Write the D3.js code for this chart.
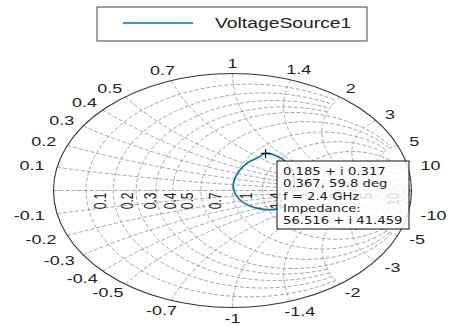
<!DOCTYPE html>
<html>
<head>
<meta charset="utf-8">
<script src="https://cdn.jsdelivr.net/npm/d3@7"></script>
<style>
  body { margin: 0; background: #fff; }
  svg { display: block; }
</style>
</head>
<body>
<svg id="chart" width="449" height="326"></svg>
<script>
// Reflection coefficient trace of VoltageSource1 (real and imaginary parts)
const traceRe = [0.300, 0.237, 0.172, 0.098, 0.042, 0.014, 0.004, 0.014, 0.042, 0.079, 0.135, 0.185, 0.256, 0.295, 0.325, 0.342, 0.345];
const traceIm = [-0.130, -0.161, -0.161, -0.132, -0.081, -0.024, 0.047, 0.104, 0.175, 0.232, 0.275, 0.317, 0.289, 0.250, 0.190, 0.110, 0.030];

// Data tip at 2.4 GHz
const tipRe = 0.185;
const tipIm = 0.317;
const tipLines = ["0.185 + i 0.317", "0.367, 59.8 deg", "f = 2.4 GHz", "Impedance:", "56.516 + i 41.459"];

// Grid circles (normalised resistance / reactance) and the extent each one is drawn to
const gridValues = [0.1, 0.2, 0.3, 0.4, 0.5, 0.7, 1, 1.4, 2, 3, 5, 10, 20, 50];
const gridLimits = [2, 2, 2, 2, 5, 5, 5, 5, 10, 10, 20, 20, 50, Infinity];

// Tick labels
const resistanceLabels = [0.1, 0.2, 0.3, 0.4, 0.5, 0.7, 1, 1.4, 2, 3, 5, 10];
const reactanceLabels = [0.1, 0.2, 0.3, 0.4, 0.5, 0.7, 1, 1.4, 2, 3, 5, 10];

const seriesName = "VoltageSource1";

const svg = d3.select("#chart");
const cx = 232.5, cy = 190.5, rx = 179, ry = 117;
const stretch = 1.38;

const x = d3.scaleLinear().domain([-1, 1]).range([cx - rx, cx + rx]);
const y = d3.scaleLinear().domain([-1, 1]).range([cy + ry, cy - ry]);

// z = r + jx  ->  gamma = (z - 1) / (z + 1)
function gamma(r, xi) {
  const dr = r + 1, den = dr * dr + xi * xi;
  return [((r - 1) * dr + xi * xi) / den, (xi * dr - (r - 1) * xi) / den];
}

const line = d3.line().x(d => x(d[0])).y(d => y(d[1]));
const N = 160;
const grid = svg.append("g")
  .attr("fill", "none")
  .attr("stroke", "#8f8f8f")
  .attr("stroke-width", 0.8)
  .attr("stroke-dasharray", "4,2");

gridValues.forEach((v, i) => {
  const lim = Math.atan(gridLimits[i]);
  // constant-resistance arc
  const rPts = d3.range(N + 1).map(k => {
    const t = -lim + 2 * lim * k / N;
    return gamma(v, Math.tan(t));
  });
  grid.append("path").attr("d", line(rPts));
  // constant-reactance arcs (positive and negative)
  [1, -1].forEach(s => {
    const xPts = d3.range(N + 1).map(k => {
      const t = lim * k / N;
      return gamma(Math.tan(t), s * v);
    });
    grid.append("path").attr("d", line(xPts));
  });
});
// real axis
grid.append("path").attr("d", line([[-1, 0], [1, 0]]));

// outer boundary
svg.append("ellipse")
  .attr("cx", x(0)).attr("cy", y(0))
  .attr("rx", x(1) - x(0)).attr("ry", y(0) - y(1))
  .attr("fill", "none").attr("stroke", "#333").attr("stroke-width", 1.1);

const labelFont = "'Liberation Sans', Arial, sans-serif";

// resistance labels along the real axis
resistanceLabels.forEach(r => {
  const g = (r - 1) / (r + 1);
  svg.append("text")
    .attr("transform", `translate(${x(g) + 14},${y(0) + 2}) scale(${stretch},1) rotate(-90)`)
    .attr("text-anchor", "end")
    .attr("dy", "0.35em")
    .attr("font-family", labelFont)
    .attr("font-size", 12)
    .attr("fill", "#222")
    .text(r);
});

// reactance labels around the rim
reactanceLabels.forEach(v => {
  [1, -1].forEach(s => {
    const g = gamma(0, s * v);
    const c = g[0], sn = g[1];
    const t = svg.append("text")
      .attr("text-anchor", "middle")
      .attr("dy", "0.35em")
      .attr("font-family", labelFont)
      .attr("font-size", 13)
      .attr("fill", "#222")
      .text(s < 0 ? "-" + v : v);
    const w = t.node().getComputedTextLength() * stretch;
    const h = 9;
    const px = x(0) + (rx + 13) * c + c * w / 2;
    const py = y(0) - (ry + 6) * sn - sn * h / 2;
    t.attr("transform", `translate(${px},${py}) scale(${stretch},1)`);
  });
});

// trace
const trace = traceRe.map((re, i) => [re, traceIm[i]]);
svg.append("path")
  .attr("d", d3.line().x(d => x(d[0])).y(d => y(d[1])).curve(d3.curveCatmullRom)(trace))
  .attr("fill", "none")
  .attr("stroke", "#0072BD")
  .attr("stroke-width", 1.6);

// data tip marker
const mx = x(tipRe), my = y(tipIm);
svg.append("path")
  .attr("d", `M${mx - 4.5},${my}H${mx + 4.5}M${mx},${my - 4.5}V${my + 4.5}`)
  .attr("stroke", "#111").attr("stroke-width", 1.1);

// data tip box
const tip = svg.append("g").attr("transform", "translate(277,161)");
tip.append("rect")
  .attr("width", 132).attr("height", 68)
  .attr("fill", "#fff").attr("fill-opacity", 0.82)
  .attr("stroke", "#111").attr("stroke-width", 1);
tipLines.forEach((s, i) => {
  tip.append("text")
    .attr("transform", `translate(6,${14 + i * 12.3}) scale(1.2,1)`)
    .attr("font-family", "'DejaVu Sans', Verdana, sans-serif")
    .attr("font-size", 11)
    .attr("fill", "#1a1a1a")
    .text(s);
});

// legend
const legend = svg.append("g").attr("transform", "translate(97,7)");
legend.append("rect")
  .attr("width", 270).attr("height", 34)
  .attr("fill", "#fff").attr("stroke", "#444").attr("stroke-width", 1);
legend.append("line")
  .attr("x1", 26).attr("x2", 96).attr("y1", 16).attr("y2", 16)
  .attr("stroke", "#0072BD").attr("stroke-width", 1.6);
legend.append("text")
  .attr("transform", `translate(118,21) scale(${stretch},1)`)
  .attr("font-family", labelFont)
  .attr("font-size", 14)
  .attr("fill", "#222")
  .text(seriesName);
</script>
</body>
</html>
